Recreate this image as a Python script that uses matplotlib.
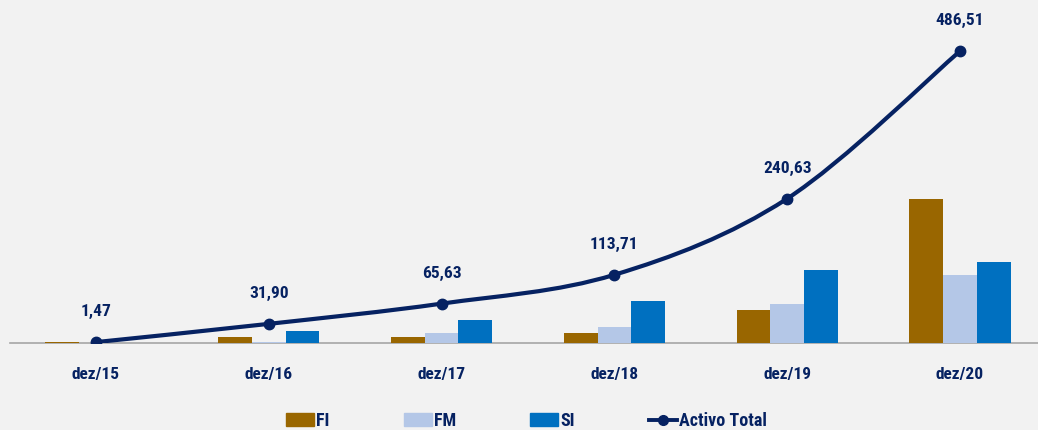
import numpy as np
import matplotlib.pyplot as plt
from matplotlib.path import Path
from matplotlib.patches import PathPatch
from matplotlib.lines import Line2D

# data
categories = ["dez/15", "dez/16", "dez/17", "dez/18", "dez/19", "dez/20"]
fi = [1.47, 10, 10.5, 17, 55, 240]
fm = [0, 2, 16, 26, 65, 113]
si = [0, 20, 38, 70, 121, 135]
activo_total = [1.47, 31.90, 65.63, 113.71, 240.63, 486.51]
total_labels = ["1,47", "31,90", "65,63", "113,71", "240,63", "486,51"]

bg = "#f2f2f2"
navy = "#062262"
font = ["Roboto Condensed", "DejaVu Sans"]

fig = plt.figure(figsize=(10.38, 4.30), dpi=100, facecolor=bg)
ax = fig.add_axes([9.6 / 1038, 87 / 430, 1 - 9.6 / 1038, 343 / 430])
ax.set_facecolor(bg)

x = np.arange(len(categories))
w = 0.195
ax.bar(x - w, fi, w, color="#996600", label="FI", zorder=3)
ax.bar(x, fm, w, color="#b4c7e7", label="FM", zorder=3)
ax.bar(x + w, si, w, color="#0070c0", label="SI", zorder=3)

# smoothed line (bezier through the points, like Excel's smoothing)
pts = np.column_stack([x, activo_total])
verts = [tuple(pts[0])]
codes = [Path.MOVETO]
n = len(pts)
for i in range(n - 1):
    p0 = pts[max(i - 1, 0)]
    p1 = pts[i]
    p2 = pts[i + 1]
    p3 = pts[min(i + 2, n - 1)]
    c1 = p1 + (p2 - p0) / 6
    c2 = p2 - (p3 - p1) / 6
    verts += [tuple(c1), tuple(c2), tuple(p2)]
    codes += [Path.CURVE4] * 3
ax.add_patch(PathPatch(Path(verts, codes), facecolor="none", edgecolor=navy,
                       lw=3.0, zorder=4))
ax.plot(x, activo_total, "o", color=navy, ms=7.5, zorder=5)

for xi, v, lab in zip(x, activo_total, total_labels):
    ax.annotate(lab, (xi, v), xytext=(0, 22), textcoords="offset points",
                ha="center", va="center", fontsize=12.5, fontweight="bold",
                color=navy, family=font)

ax.set_xlim(-0.5, -0.5 + (1038 - 9.6) / 172.8)
ax.set_ylim(0, 343 / 0.6)
ax.set_xticks(x)
ax.set_xticklabels(categories, fontsize=12.5, fontweight="bold", color=navy,
                   family=font)
ax.tick_params(axis="x", length=0, pad=17)
ax.set_yticks([])
for s in ["top", "right", "left"]:
    ax.spines[s].set_visible(False)
ax.spines["bottom"].set_color("#a6a6a6")
ax.spines["bottom"].set_linewidth(1.2)

handles = [
    plt.Rectangle((0, 0), 1, 1, color="#996600"),
    plt.Rectangle((0, 0), 1, 1, color="#b4c7e7"),
    plt.Rectangle((0, 0), 1, 1, color="#0070c0"),
    Line2D([], [], color=navy, lw=2.8, marker="o", ms=7),
]
leg = fig.legend(handles, ["FI", "FM", "SI", "Activo Total"], loc="center left",
                 bbox_to_anchor=(286 / 1038, 9 / 430), ncol=4, frameon=False,
                 borderpad=0, borderaxespad=0,
                 handlelength=1.55, handleheight=0.7, handletextpad=0.12,
                 columnspacing=4.1, prop={"family": font, "weight": "bold",
                                          "size": 13})
for t in leg.get_texts():
    t.set_color(navy)

fig.savefig("out.png", dpi=100, facecolor=bg)
